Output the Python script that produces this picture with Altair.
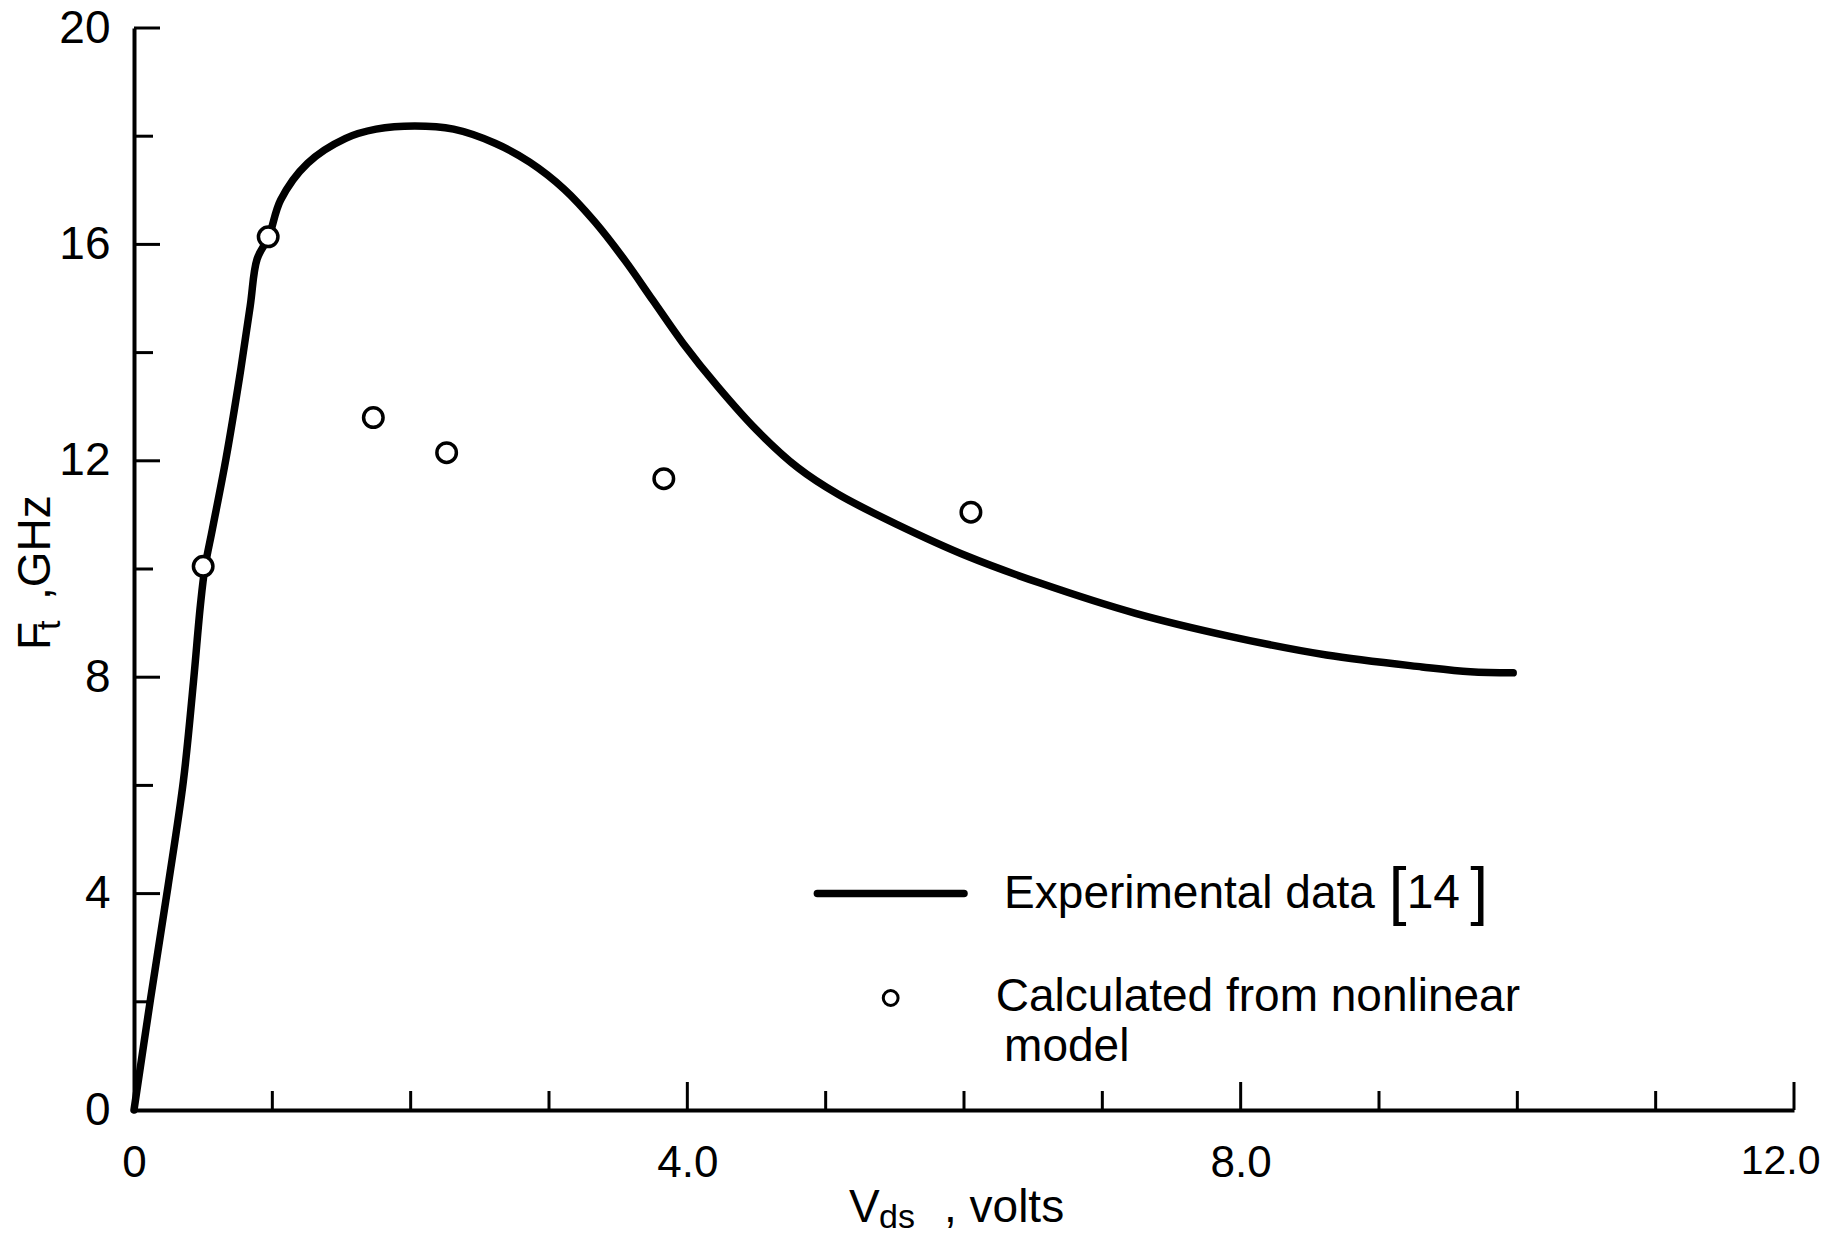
import altair as alt
import pandas as pd

# ---- data ----
curve_v = [0, 0.12, 0.245, 0.357, 0.43, 0.48, 0.513, 0.567, 0.665, 0.764, 0.84, 0.89,
           0.974, 1.06, 1.255, 1.53, 1.75, 2.03, 2.31, 2.61, 2.86, 3.11, 3.33, 3.55,
           3.75, 3.97, 4.22, 4.50, 4.80, 5.09, 5.51, 6.03, 6.55, 7.24, 7.93, 8.62,
           9.31, 9.66, 9.97]
curve_f = [0, 2.06, 4.12, 6.08, 7.92, 9.33, 10.03, 10.74, 12.04, 13.56, 14.86, 15.73,
           16.14, 16.82, 17.50, 17.96, 18.13, 18.19, 18.13, 17.87, 17.52, 17.02, 16.42, 15.70,
           14.97, 14.17, 13.37, 12.57, 11.87, 11.38, 10.83, 10.23, 9.74, 9.18, 8.75, 8.41,
           8.19, 8.10, 8.08]
calc_v = [0.5, 0.97, 1.73, 2.26, 3.83, 6.05]
calc_f = [10.05, 16.14, 12.80, 12.15, 11.67, 11.05]

x_label_values = [0, 4, 8, 12]
y_label_values = [0, 4, 8, 12, 16, 20]
x_minor_ticks = [1, 2, 3, 5, 6, 7, 9, 10, 11]
x_major_ticks = [4, 8, 12]
y_minor_ticks = [2, 6, 10, 14, 18]
y_major_ticks = [4, 8, 12, 16, 20]

legend_line_label = "Experimental data"
legend_ref = "14"
legend_point_label_1 = "Calculated from nonlinear"
legend_point_label_2 = "model"

# ---- styling ----
W, H = 1660, 1082
FONT = "Liberation Sans"
FS = 46
LFS = 46
MAJOR, MINOR = 26, 19

xs = alt.Scale(domain=[0, 12], nice=False, zero=False)
ys = alt.Scale(domain=[0, 20], nice=False, zero=False)

curve_df = pd.DataFrame({"v": curve_v, "f": curve_f})
calc_df = pd.DataFrame({"v": calc_v, "f": calc_f})
dummy = pd.DataFrame({"d": [0]})

last_x = "datum.value == 12"
x_axis = alt.Axis(values=x_label_values,
                  labelExpr="datum.value == 0 ? '0' : format(datum.value, '.1f')",
                  title="", grid=False, ticks=False, tickSize=0, labelPadding=31,
                  labelFont=FONT, labelColor="black",
                  labelFontSize={"condition": {"test": last_x, "value": 41}, "value": 44},
                  labelAlign={"condition": {"test": last_x, "value": "right"}, "value": "center"},
                  labelOffset={"condition": {"test": last_x, "value": 26}, "value": 0},
                  domainColor="black", domainWidth=4, labelFlush=False, labelOverlap=False)
y_axis = alt.Axis(values=y_label_values, labelExpr="format(datum.value, 'd')",
                  title="", grid=False, ticks=False, tickSize=0, labelPadding=24,
                  labelFont=FONT, labelFontSize=FS, labelColor="black",
                  domainColor="black", domainWidth=4, labelFlush=False, labelOverlap=False)


def X(field):
    return alt.X(field, scale=xs, axis=x_axis)


def Y(field):
    return alt.Y(field, scale=ys, axis=y_axis)


def XD(v):
    return alt.XDatum(v, scale=xs, axis=x_axis)


def YD(v):
    return alt.YDatum(v, scale=ys, axis=y_axis)


curve = alt.Chart(curve_df).mark_line(
    color="black", strokeWidth=7.5, interpolate="catmull-rom", strokeCap="round", strokeJoin="round"
).encode(x=X("v:Q"), y=Y("f:Q"))

points = alt.Chart(calc_df).mark_point(
    shape="circle", filled=True, fill="white", stroke="black", strokeWidth=3.5,
    size=380, opacity=1
).encode(x=X("v:Q"), y=Y("f:Q"))


def xticks(vals, length):
    return alt.Chart(pd.DataFrame({"t": vals})).mark_rule(color="black", strokeWidth=3).encode(
        x=X("t:Q"), y=alt.value(H), y2=alt.value(H - length))


def yticks(vals, length):
    return alt.Chart(pd.DataFrame({"t": vals})).mark_rule(color="black", strokeWidth=3).encode(
        y=Y("t:Q"), x=alt.value(0), x2=alt.value(length))


tick_layers = [xticks(x_minor_ticks, MINOR), xticks(x_major_ticks, MAJOR + 2),
               yticks(y_minor_ticks, MINOR), yticks(y_major_ticks, MAJOR)]

# ---- legend ----
leg_line = alt.Chart(dummy).mark_rule(color="black", strokeWidth=7.5, strokeCap="round").encode(
    x=XD(4.94), x2=alt.X2Datum(6.0), y=YD(4.0))


def txt(s, xv, yv, size=LFS):
    return alt.Chart(dummy).mark_text(
        align="left", baseline="middle", font=FONT, fontSize=size, color="black"
    ).encode(x=XD(xv), y=YD(yv), text=alt.value(s))


leg_pt = alt.Chart(dummy).mark_point(
    shape="circle", filled=True, fill="white", stroke="black", strokeWidth=3, size=220, opacity=1
).encode(x=XD(5.47), y=YD(2.07))

legend_layers = [
    leg_line,
    txt(legend_line_label, 6.29, 3.99),
    txt("[", 9.07, 4.0, 64),
    txt(legend_ref, 9.20, 3.99, 48),
    txt("]", 9.66, 4.0, 64),
    leg_pt,
    txt(legend_point_label_1, 6.23, 2.09),
    txt(legend_point_label_2, 6.29, 1.17),
]


# ---- axis titles (with subscripts) ----
def ptxt(s, px, py, size=FS, angle=0):
    return alt.Chart(dummy).mark_text(
        align="left", baseline="alphabetic", font=FONT, fontSize=size, color="black", angle=angle
    ).encode(x=alt.value(px), y=alt.value(py), text=alt.value(s))


title_layers = [
    ptxt("V", 715, 1194),
    ptxt("ds", 745, 1200, 34),
    ptxt(", volts", 810, 1194),
    ptxt("F", -84, 622, FS, 270),
    ptxt("t", -74, 602, 34, 270),
    ptxt(",GHz", -84, 572, FS, 270),
]

chart = alt.layer(curve, *tick_layers, points, *legend_layers, *title_layers).properties(
    width=W, height=H,
    autosize=alt.AutoSizeParams(type="none"),
    padding={"left": 126, "top": 20, "right": 28, "bottom": 126},
    background="white",
).configure_view(strokeWidth=0)

chart.save("out.html", embed_options={"renderer": "svg", "actions": False})
